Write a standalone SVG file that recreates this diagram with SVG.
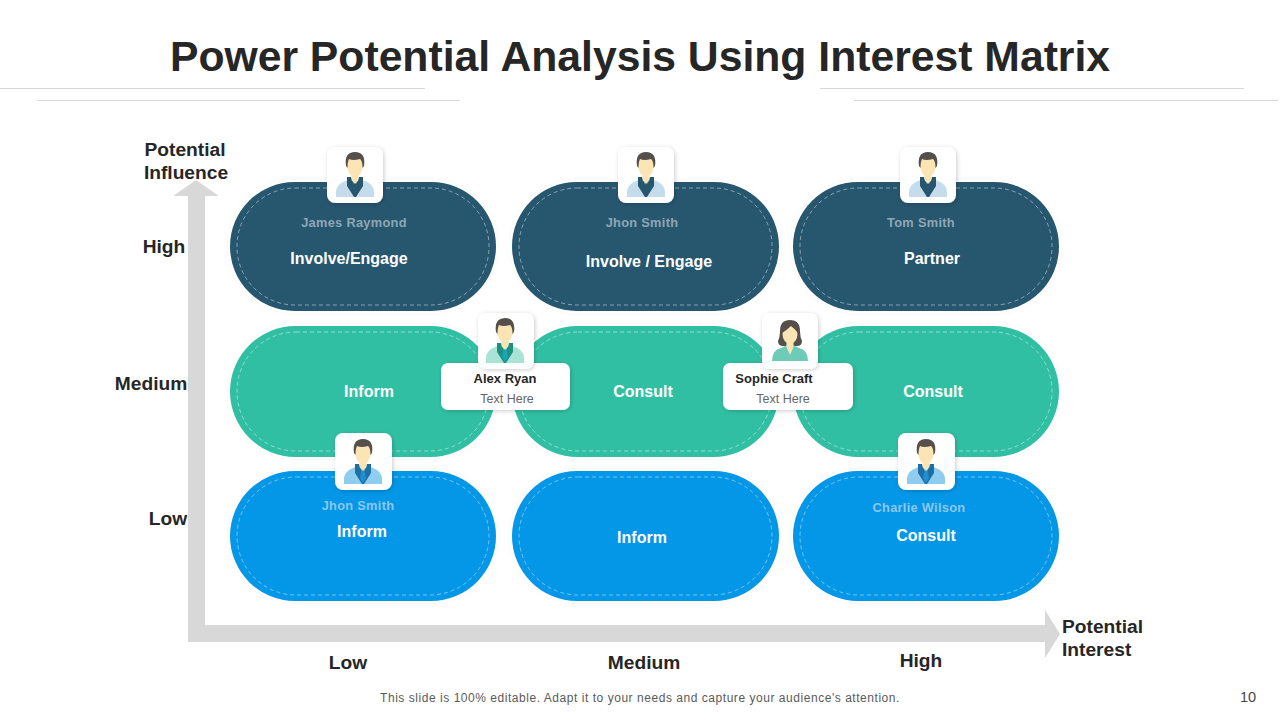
<svg xmlns="http://www.w3.org/2000/svg" xmlns:xlink="http://www.w3.org/1999/xlink" width="1280" height="720" viewBox="0 0 1280 720">
<style>
text{font-family:"Liberation Sans",Arial,sans-serif;text-anchor:middle}
.title{font-size:42.7px;font-weight:700;fill:#262626}
.axis{font-size:19.2px;font-weight:700;fill:#262626}
.start{text-anchor:start}
.lab{font-size:16px;font-weight:700;fill:#fff}
.nm{font-size:12.8px;font-weight:700;letter-spacing:.3px}
.cn{font-size:13px;font-weight:700;fill:#262626}
.ct{font-size:12.5px;fill:#666}
.foot{font-size:12px;fill:#5a5a5a;letter-spacing:.54px}
.rule{stroke:#d8d8d8;stroke-width:1;fill:none}
.halo{fill:#fff;filter:url(#soft)}
.dash{fill:none;stroke:#fff;stroke-opacity:.45;stroke-width:1;stroke-dasharray:4 3}
.navy{fill:#27566f}.teal{fill:#31bfa3}.blue{fill:#0496e7}
.card{fill:#fff;filter:url(#cs)}
.skin{fill:#fbe5b4}.hair{fill:#55504c}
</style>
<defs>
<filter id="soft" x="-5%" y="-5%" width="110%" height="110%"><feDropShadow dx="0" dy="0" stdDeviation="1.500" flood-color="#000" flood-opacity=".05"/></filter>
<filter id="cs" x="-20%" y="-20%" width="140%" height="140%"><feDropShadow dx="1" dy="1" stdDeviation="2" flood-color="#000" flood-opacity=".2"/></filter>
<g id="man">
<path d="M-19 22 L-19 16 Q-18 9 -10 6 L-5 4 L5 4 L10 6 Q18 9 19 16 L19 22Z" style="fill:var(--coat)"/>
<path d="M-8 2 L-4 2 L0 12 L4 2 L8 2 L8 11 L1 22 L-1 22 L-8 11Z" style="fill:var(--lapel)"/>
<path d="M-2 5 L2 5 L1.500 8 L3 16 L0 21 L-3 16 L-1.500 8Z" style="fill:var(--tie)"/>
<path d="M-3.500 -2H3.500V5L0 9L-3.500 5Z" class="skin"/>
<ellipse cx="0" cy="-10" rx="8" ry="11.500" class="skin"/>
<path d="M-9 -9 Q-11 -23 0 -23 Q11 -23 9 -9 L7.500 -7 Q7.500 -14 5 -16 Q-2 -14 -6 -16 Q-7.500 -13 -7.500 -7Z" class="hair"/>
</g>
<g id="woman">
<path d="M-10 -10 Q-10 -21 0 -21 Q10 -21 10 -10 Q10 -4 12 0 Q12 5 7 5 L-7 5 Q-12 5 -12 0 Q-10 -4 -10 -10Z" class="hair"/>
<path d="M-18 20 Q-18 9 -9 7 L-3 4 L3 4 L9 7 Q18 9 18 20Z" style="fill:var(--coat)"/>
<path d="M-3.500 0 L3.500 0 L3.500 6 L0 14 L-3.500 6Z" class="skin"/>
<ellipse cx="0" cy="-7" rx="7.500" ry="10" class="skin"/>
<path d="M-8 -8 Q-9 -18 0 -18 Q9 -18 8 -8 Q5 -12 1 -15 Q-3 -11 -8 -8Z" class="hair"/>
</g>
</defs>
<rect width="1280" height="720" fill="#fff"/>
<g id="header">
<text class="title" x="640" y="71">Power Potential Analysis Using Interest Matrix</text>
<path class="rule" d="M0 88.500H425M37 100.500H460M820 88.500H1244M854 100.500H1278"/>
</g>
<g id="connectors">
<path id="axes" fill="#d8d8d8" d="M188 642V196H173L196 180L219 196H205V625H1045V610L1060 634L1045 658V642Z"/>
</g>
<g id="axis-labels">
<text class="axis" x="185" y="156">Potential</text>
<text class="axis" x="186" y="179">Influence</text>
<text class="axis" x="164" y="253">High</text>
<text class="axis" x="151" y="390">Medium</text>
<text class="axis" x="168" y="525">Low</text>
<text class="axis" x="348" y="669">Low</text>
<text class="axis" x="644" y="669">Medium</text>
<text class="axis" x="921" y="667">High</text>
<text class="axis start" x="1062" y="633">Potential</text>
<text class="axis start" x="1062" y="656">Interest</text>
</g>
<g id="node-r1c1"><rect class="halo" x="228" y="180" width="270" height="133" rx="66"/><rect class="navy" x="230" y="182" width="266" height="129" rx="64.500"/><rect class="dash" x="237" y="188" width="252" height="117" rx="58"/><text class="nm" x="354" y="227" fill="#8ea7b5">James Raymond</text><text class="lab" x="349" y="264">Involve/Engage</text></g>
<g id="node-r1c2"><rect class="halo" x="510" y="180" width="271" height="133" rx="66"/><rect class="navy" x="512" y="182" width="267" height="129" rx="64.500"/><rect class="dash" x="519" y="188" width="253" height="117" rx="58"/><text class="nm" x="642" y="227" fill="#8ea7b5">Jhon Smith</text><text class="lab" x="649" y="267">Involve / Engage</text></g>
<g id="node-r1c3"><rect class="halo" x="791" y="180" width="270" height="133" rx="66"/><rect class="navy" x="793" y="182" width="266" height="129" rx="64.500"/><rect class="dash" x="800" y="188" width="252" height="117" rx="58"/><text class="nm" x="921" y="227" fill="#8ea7b5">Tom Smith</text><text class="lab" x="932" y="264">Partner</text></g>
<g id="node-r2c1"><rect class="halo" x="228" y="324" width="270" height="135" rx="67"/><rect class="teal" x="230" y="326" width="266" height="131" rx="65.500"/><rect class="dash" x="237" y="332" width="252" height="119" rx="59"/><text class="lab" x="369" y="397">Inform</text></g>
<g id="node-r2c2"><rect class="halo" x="510" y="324" width="271" height="135" rx="67"/><rect class="teal" x="512" y="326" width="267" height="131" rx="65.500"/><rect class="dash" x="519" y="332" width="253" height="119" rx="59"/><text class="lab" x="643" y="397">Consult</text></g>
<g id="node-r2c3"><rect class="halo" x="791" y="324" width="270" height="135" rx="67"/><rect class="teal" x="793" y="326" width="266" height="131" rx="65.500"/><rect class="dash" x="800" y="332" width="252" height="119" rx="59"/><text class="lab" x="933" y="397">Consult</text></g>
<g id="node-r3c1"><rect class="halo" x="228" y="469" width="270" height="134" rx="67"/><rect class="blue" x="230" y="471" width="266" height="130" rx="65"/><rect class="dash" x="237" y="477" width="252" height="118" rx="59"/><text class="nm" x="358" y="510" fill="#8cc8ee">Jhon Smith</text><text class="lab" x="362" y="537">Inform</text></g>
<g id="node-r3c2"><rect class="halo" x="510" y="469" width="271" height="134" rx="67"/><rect class="blue" x="512" y="471" width="267" height="130" rx="65"/><rect class="dash" x="519" y="477" width="253" height="118" rx="59"/><text class="lab" x="642" y="543">Inform</text></g>
<g id="node-r3c3"><rect class="halo" x="791" y="469" width="270" height="134" rx="67"/><rect class="blue" x="793" y="471" width="266" height="130" rx="65"/><rect class="dash" x="800" y="477" width="252" height="118" rx="59"/><text class="nm" x="919" y="512" fill="#8cc8ee">Charlie Wilson</text><text class="lab" x="926" y="541">Consult</text></g>
<g id="avatar-james"><rect class="card" x="327" y="147" width="56" height="56" rx="8"/><use xlink:href="#man" href="#man" transform="translate(355 175)" style="--coat:#c5dced;--lapel:#27566f;--tie:#27566f"/></g>
<g id="avatar-jhon-top"><rect class="card" x="618" y="147" width="56" height="56" rx="8"/><use xlink:href="#man" href="#man" transform="translate(646 175)" style="--coat:#c5dced;--lapel:#27566f;--tie:#27566f"/></g>
<g id="avatar-tom"><rect class="card" x="900" y="147" width="56" height="56" rx="8"/><use xlink:href="#man" href="#man" transform="translate(928 175)" style="--coat:#c5dced;--lapel:#27566f;--tie:#27566f"/></g>
<g id="card-alex"><rect class="card" x="441" y="363" width="129" height="47" rx="7"/><text class="cn" x="505" y="383">Alex Ryan</text><text class="ct" x="507" y="403">Text Here</text></g>
<g id="avatar-alex"><rect class="card" x="478" y="313" width="56" height="56" rx="8"/><use xlink:href="#man" href="#man" transform="translate(505 341)" style="--coat:#a9e3d6;--lapel:#1f8f80;--tie:#18a5b5"/></g>
<g id="card-sophie"><rect class="card" x="723" y="363" width="130" height="47" rx="7"/><text class="cn" x="774" y="383">Sophie Craft</text><text class="ct" x="783" y="403">Text Here</text></g>
<g id="avatar-sophie"><rect class="card" x="762" y="313" width="56" height="56" rx="8"/><use xlink:href="#woman" href="#woman" transform="translate(790 341)" style="--coat:#6ecbb8"/></g>
<g id="avatar-jhon-low"><rect class="card" x="335" y="433" width="57" height="57" rx="8"/><use xlink:href="#man" href="#man" transform="translate(363 462)" style="--coat:#8fcdf0;--lapel:#1f6fa5;--tie:#1f8fd0"/></g>
<g id="avatar-charlie"><rect class="card" x="898" y="433" width="57" height="57" rx="8"/><use xlink:href="#man" href="#man" transform="translate(926 462)" style="--coat:#8fcdf0;--lapel:#1f6fa5;--tie:#1f8fd0"/></g>
<g id="footer">
<text class="foot" x="640" y="702">This slide is 100% editable. Adapt it to your needs and capture your audience's attention.</text>
<text x="1248" y="702" font-size="14.500" fill="#444">10</text>
</g>
</svg>
